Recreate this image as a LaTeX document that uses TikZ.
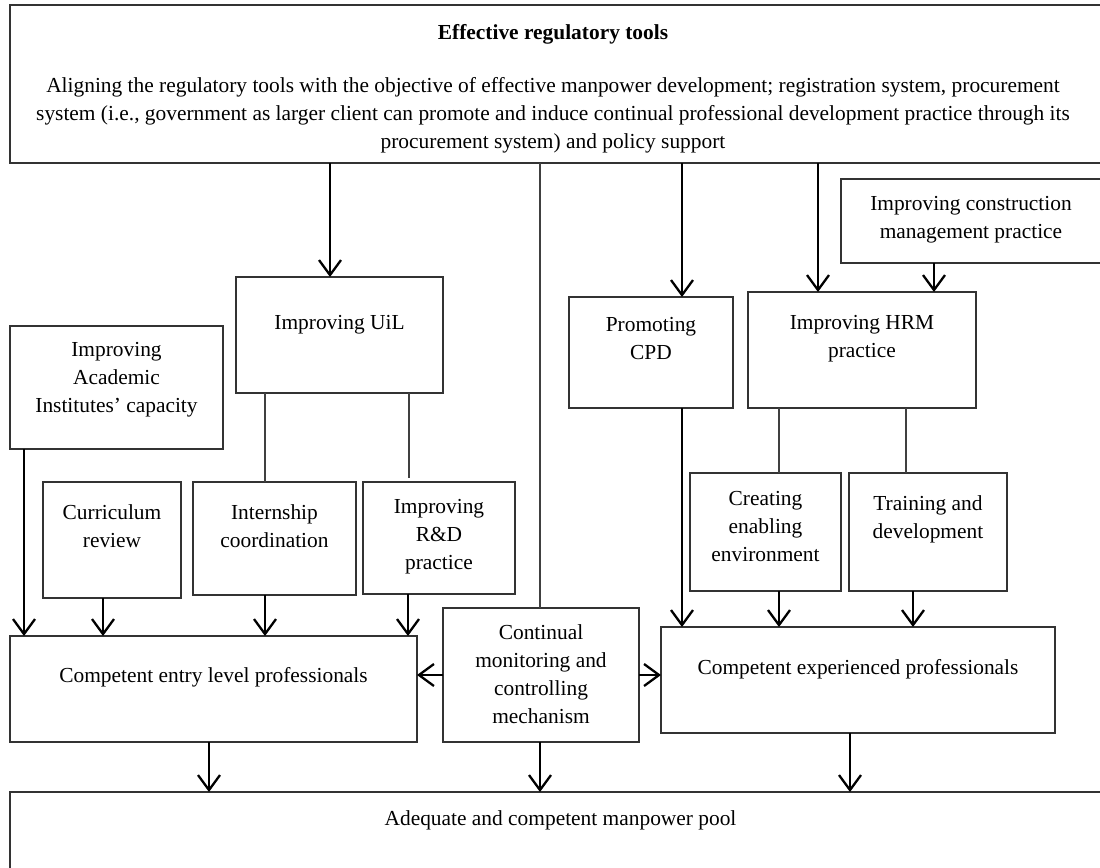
\documentclass[tikz,border=0pt]{standalone}
\usepackage{fontspec}
\setmainfont{Liberation Serif}
\usetikzlibrary{arrows.meta}
\begin{document}
\begin{tikzpicture}[x=0.5pt,y=-0.5pt,
  boxst/.style={draw=black!80, line width=0.75pt, inner sep=0pt, outer sep=0pt, rectangle},
  txt/.style={font=\fontsize{10.7pt}{14pt}\selectfont, inner sep=0pt, align=center, anchor=base},
  arr/.style={line width=1.15pt, -{Straight Barb[length=7.5pt,width=11pt]}},
  thin/.style={line width=0.65pt, draw=black!75}]
\useasboundingbox (0,0) rectangle (1100,868);
\clip (0,0) rectangle (1100,868);
\newcommand{\mkbox}[5]{\node[boxst, minimum width={(#4-#2)*0.5pt}, minimum height={(#5-#3)*0.5pt}] (#1) at ({(#2+#4)/2},{(#3+#5)/2}) {};}
% boxes
\mkbox{top}{10}{5}{1120}{163}
\mkbox{uil}{236}{277}{443}{393}
\mkbox{acad}{10}{326}{223}{449}
\mkbox{cur}{43}{482}{181}{598}
\mkbox{intern}{193}{482}{356}{595}
\mkbox{rd}{363}{482}{515}{594}
\mkbox{cpd}{569}{297}{733}{408}
\mkbox{hrm}{748}{292}{976}{408}
\mkbox{cons}{841}{179}{1120}{263}
\mkbox{create}{690}{473}{841}{591}
\mkbox{train}{849}{473}{1007}{591}
\mkbox{entry}{10}{636}{417}{742}
\mkbox{mon}{443}{608}{639}{742}
\mkbox{exp}{661}{627}{1055}{733}
\mkbox{pool}{10}{792}{1120}{900}
% texts (anchor base = baseline of last line)
\node[txt, font=\fontsize{10.7pt}{14pt}\selectfont\bfseries] (ttitle) at (553,39) {Effective regulatory tools};
\node[txt] (ttop) at (553,148) {Aligning the regulatory tools with the objective of effective manpower development; registration system, procurement\\system (i.e., government as larger client can promote and induce continual professional development practice through its\\procurement system) and policy support};
\node[txt] (tcons) at (971,238) {Improving construction\\management practice};
\node[txt] (tcpd) at (651,359) {Promoting\\CPD};
\node[txt] (thrm) at (862,357) {Improving HRM\\practice};
\node[txt] (tuil) at (339.5,329) {Improving UiL};
\node[txt] (tacad) at (116.5,412) {Improving\\Academic\\Institutes’ capacity};
\node[txt] (tcur) at (112,547) {Curriculum\\review};
\node[txt] (tintern) at (274.5,547) {Internship\\coordination};
\node[txt] (trd) at (439,569) {Improving\\R\&D\\practice};
\node[txt] (tcreate) at (765.5,561) {Creating\\enabling\\environment};
\node[txt] (ttrain) at (928,538) {Training and\\development};
\node[txt] (tentry) at (213.5,682) {Competent entry level professionals};
\node[txt] (texp) at (858,674) {Competent experienced professionals};
\node[txt] (tmon) at (541,723) {Continual\\monitoring and\\controlling\\mechanism};
\node[txt] (tpool) at (560.5,825) {Adequate and competent manpower pool};
% connectors from top box
\draw[arr] (top.south -| 330,0) -- (uil.north -| 330,0);
\draw[thin] (top.south -| 540,0) -- (mon.north -| 540,0);
\draw[arr] (top.south -| 682,0) -- (cpd.north -| 682,0);
\draw[arr] (top.south -| 818,0) -- (hrm.north -| 818,0);
\draw[arr] (cons.south -| 934,0) -- (hrm.north -| 934,0);
% UiL branches
\draw[thin] (uil.south -| 265,0) -- (intern.north -| 265,0);
\draw[thin] (uil.south -| 409,0) -- ([yshift=2pt]rd.north -| 409,0);
% HRM branches
\draw[thin] (hrm.south -| 779,0) -- (create.north -| 779,0);
\draw[thin] (hrm.south -| 906,0) -- (train.north -| 906,0);
% to entry level
\draw[arr] (acad.south -| 24,0) -- (entry.north -| 24,0);
\draw[arr] (cur.south -| 103,0) -- (entry.north -| 103,0);
\draw[arr] (intern.south -| 265,0) -- (entry.north -| 265,0);
\draw[arr] (rd.south -| 408,0) -- (entry.north -| 408,0);
% to experienced
\draw[arr] (cpd.south -| 682,0) -- (exp.north -| 682,0);
\draw[arr] (create.south -| 779,0) -- (exp.north -| 779,0);
\draw[arr] (train.south -| 913,0) -- (exp.north -| 913,0);
% monitoring
\draw[arr] (mon.west |- 0,675) -- (entry.east |- 0,675);
\draw[arr] (mon.east |- 0,675) -- (exp.west |- 0,675);
% to pool
\draw[arr] (entry.south -| 209,0) -- (pool.north -| 209,0);
\draw[arr] (mon.south -| 540,0) -- (pool.north -| 540,0);
\draw[arr] (exp.south -| 850,0) -- (pool.north -| 850,0);
\end{tikzpicture}
\end{document}
